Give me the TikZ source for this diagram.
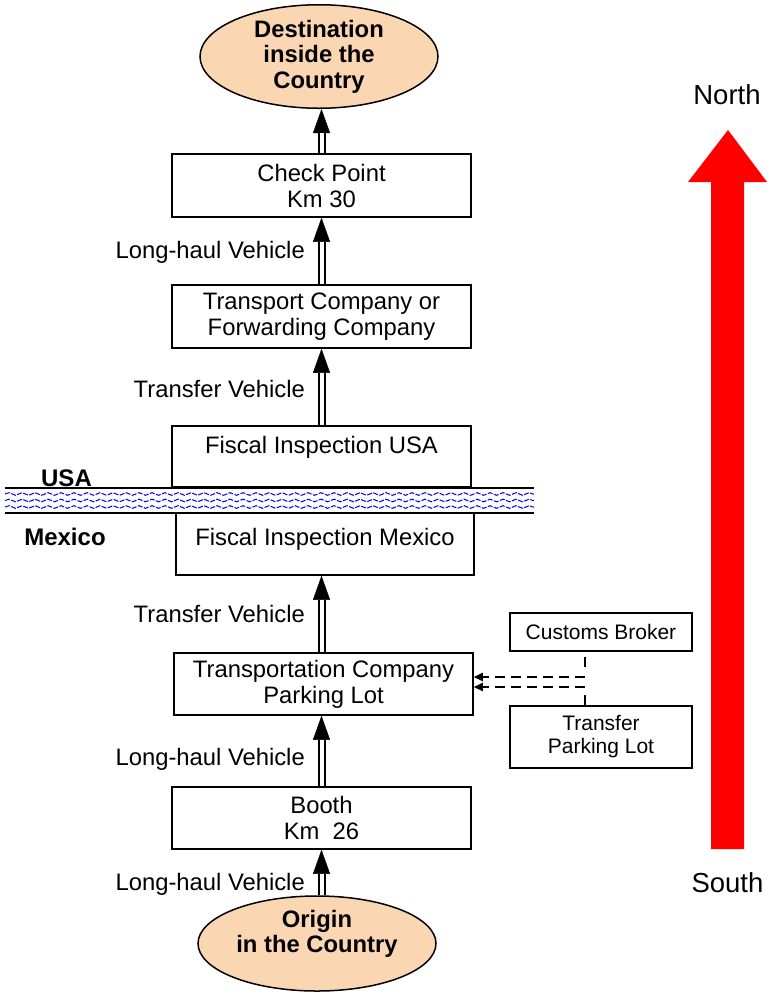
\documentclass[tikz,border=0pt]{standalone}
\usepackage{fontspec}
\setmainfont{Liberation Sans}
\usetikzlibrary{arrows.meta,shapes.geometric,decorations.pathmorphing}
\definecolor{peach}{RGB}{250,214,178}
\definecolor{waterblue}{RGB}{0,0,255}

\begin{document}
\begin{tikzpicture}[x=1pt,y=-1pt,
  every node/.style={inner sep=0pt, font=\fontsize{23.8}{26}\selectfont},
  stagebox/.style={draw, line width=1.5pt, align=center, minimum width=299pt},
  sidebox/.style={draw, line width=1.5pt, align=center, minimum width=182pt,
    font=\fontsize{21}{23}\selectfont},
  endpoint/.style={ellipse, draw, line width=1.5pt, fill=peach, minimum width=238pt},
  endtext/.style={align=center, font=\fontsize{23.8}{25.5}\selectfont\bfseries},
  vehicle/.style={anchor=base east},
  country/.style={anchor=base, font=\fontsize{24}{26}\selectfont\bfseries},
  compass/.style={anchor=base, font=\fontsize{27.5}{30}\selectfont},
  tiphead/.style={line width=0.4pt, -{Triangle[length=24pt,width=17pt]}},
  shaft/.style={line width=2pt, double distance=4pt, shorten >=24pt, shorten <=0.75pt},
  feeder/.style={line width=2pt, dash pattern=on 10pt off 28pt},
  sidearrow/.style={line width=2pt, dash pattern=on 10pt off 6pt,
    -{Triangle[length=9pt,width=8pt]}},
  riverbank/.style={line width=1.5pt},
  waves/.style={waterblue, line width=1pt, dash pattern=on 5pt off 1.5pt,
    decorate, decoration={snake, segment length=13pt, amplitude=1.3pt}},
]
\useasboundingbox (0,0) rectangle (770,994);

% north-south direction arrow
\fill[red] (728,130) -- (767,182) -- (744,182) -- (744,849)
  -- (711,849) -- (711,182) -- (688,182) -- cycle;
\node[compass] (north) at (727,104) {North};
\node[compass] (south) at (727.5,892) {South};

% the border river
\draw[riverbank] (5,488) -- (534,488);
\draw[riverbank] (5,513) -- (534,513);
\foreach \y in {494,500.5,507}
  \draw[waves] (5,\y) -- (534,\y);
\node[country] (usa) at (66.5,486) {USA};
\node[country] (mex) at (65,545) {Mexico};

% stages along the route
\node[endpoint, minimum height=103pt, endtext] (dest) at (319,56.5)
  {Destination\\inside the\\Country};
\node[stagebox, minimum height=63pt] (chk) at (321.5,185.5) {Check Point\\Km 30};
\node[stagebox, minimum height=63pt] (tco) at (321.5,316.5)
  {Transport Company or\\Forwarding Company};
\node[stagebox, minimum height=61pt, text height=17pt, text depth=24pt] (fusa)
  at (321.5,456.5) {Fiscal Inspection USA};
\node[stagebox, minimum width=298pt, minimum height=62pt, text height=17pt,
  text depth=15pt] (fmex) at (325,544) {Fiscal Inspection Mexico};
\node[stagebox, minimum height=62pt] (park) at (323.5,684)
  {Transportation Company\\Parking Lot};
\node[stagebox, minimum height=62pt] (booth) at (321.5,818) {Booth\\Km~~26};
\node[endpoint, minimum height=95pt] (orig) at (317,943.5) {};
\node[endtext] (origtext) at (317,934) {Origin\\in the Country};

% side services
\node[sidebox, minimum height=38pt] (bro) at (601,632) {Customs Broker};
\node[sidebox, minimum height=62pt] (tpl) at (601,737) {Transfer\\Parking Lot};

% vehicle flow arrows
\coordinate (spine) at (321.5,0);
\foreach \a/\b in {orig/booth, booth/park, park/fmex, fusa/tco, tco/chk, chk/dest} {
  \draw[tiphead] (\a.north -| spine) -- (\b.south -| spine);
  \draw[shaft] (\a.north -| spine) -- (\b.south -| spine);
}

\node[vehicle] (lh1) at (305,258) {Long-haul Vehicle};
\node[vehicle] (tv1) at (305,397) {Transfer Vehicle};
\node[vehicle] (tv2) at (305,622) {Transfer Vehicle};
\node[vehicle] (lh2) at (305,765) {Long-haul Vehicle};
\node[vehicle] (lh3) at (305,890) {Long-haul Vehicle};

% dashed feeders into the parking lot
\coordinate (jx) at (584.5,0);
\coordinate (j1) at (585,677);
\coordinate (j2) at (585,687);
\draw[feeder] (tpl.north -| jx) -- (bro.south -| jx);
\draw[sidearrow] (j1) -- (park.east |- j1);
\draw[sidearrow] (j2) -- (park.east |- j2);
\end{tikzpicture}
\end{document}
